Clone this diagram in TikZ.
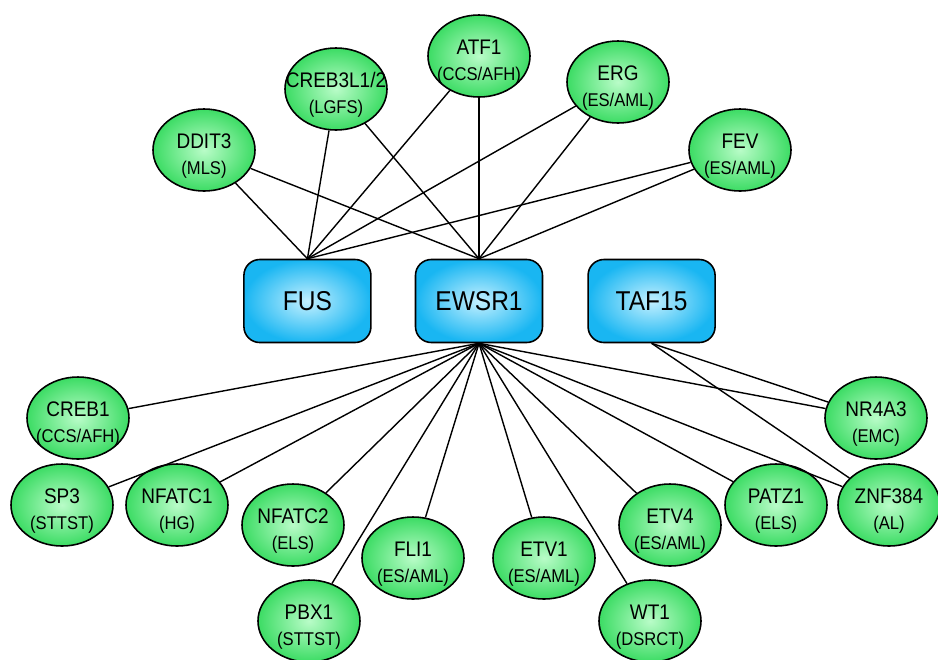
\documentclass[tikz,border=0pt]{standalone}
\usepackage{fontspec}
\setmainfont{Liberation Sans}[FakeStretch=0.9]
\usetikzlibrary{shapes.geometric,positioning}
\definecolor{genegreen}{RGB}{60,220,100}
\definecolor{genelight}{RGB}{185,252,200}
\definecolor{fetblue}{RGB}{25,182,242}
\definecolor{fetlight}{RGB}{195,240,255}
% name over disease, both kept out of the node's width
\newcommand{\gn}[2]{\makebox[0pt]{\rule{0pt}{15.5pt}#1}\\
  \makebox[0pt]{\fontsize{10.5}{12}\selectfont(#2)}}
\tikzset{
  gene/.style={ellipse,draw=black,line width=0.9pt,inner sep=0pt,
               minimum width=2.04cm,minimum height=1.64cm,
               inner color=genelight,outer color=genegreen,
               align=center,font=\fontsize{12}{14.7}\selectfont},
  fet/.style={rectangle,rounded corners=9pt,draw=black,line width=0.9pt,
              minimum width=2.54cm,minimum height=1.66cm,
              inner color=fetlight,outer color=fetblue,
              font=\fontsize{15.5}{18}\selectfont},
  link/.style={line width=0.8pt,black},
}
\begin{document}
\begin{tikzpicture}
  \useasboundingbox (0,0) rectangle (18.76,-13.18);

  % FET family
  \node[fet] (ewsr1) at (9.58,-6.02) {EWSR1};
  \node[fet,left=0.86cm of ewsr1] (fus) {FUS};
  \node[fet,right=0.88cm of ewsr1] (taf15) {TAF15};

  % partners above
  \node[gene] (ddit3) at (4.08,-3.0) {\gn{DDIT3}{MLS}};
  \node[gene] (creb3l) at (6.72,-1.78) {\gn{CREB3L1/2}{LGFS}};
  \node[gene] (atf1) at (9.58,-1.12) {\gn{ATF1}{CCS/AFH}};
  \node[gene] (erg) at (12.36,-1.64) {\gn{ERG}{ES/AML}};
  \node[gene] (fev) at (14.8,-3.0) {\gn{FEV}{ES/AML}};

  % partners below
  \node[gene] (creb1) at (1.56,-8.36) {\gn{CREB1}{CCS/AFH}};
  \node[gene] (sp3) at (1.24,-10.1) {\gn{SP3}{STTST}};
  \node[gene] (nfatc1) at (3.54,-10.1) {\gn{NFATC1}{HG}};
  \node[gene] (nfatc2) at (5.86,-10.5) {\gn{NFATC2}{ELS}};
  \node[gene] (pbx1) at (6.18,-12.42) {\gn{PBX1}{STTST}};
  \node[gene] (fli1) at (8.26,-11.16) {\gn{FLI1}{ES/AML}};
  \node[gene] (etv1) at (10.88,-11.16) {\gn{ETV1}{ES/AML}};
  \node[gene] (wt1) at (13.0,-12.42) {\gn{WT1}{DSRCT}};
  \node[gene] (etv4) at (13.4,-10.5) {\gn{ETV4}{ES/AML}};
  \node[gene] (patz1) at (15.52,-10.1) {\gn{PATZ1}{ELS}};
  \node[gene] (znf384) at (17.78,-10.1) {\gn{ZNF384}{AL}};
  \node[gene] (nr4a3) at (17.52,-8.36) {\gn{NR4A3}{EMC}};

  \foreach \g in {ddit3,creb3l,atf1,erg,fev}{
    \draw[link] (\g) -- (fus.north);
    \draw[link] (\g) -- (ewsr1.north);
  }
  \foreach \g in {creb1,sp3,nfatc1,nfatc2,pbx1,fli1,etv1,wt1,etv4,patz1,znf384,nr4a3}
    \draw[link] (ewsr1.south) -- (\g);
  \foreach \g in {nr4a3,znf384}
    \draw[link] (taf15.south) -- (\g);

\end{tikzpicture}
\end{document}
